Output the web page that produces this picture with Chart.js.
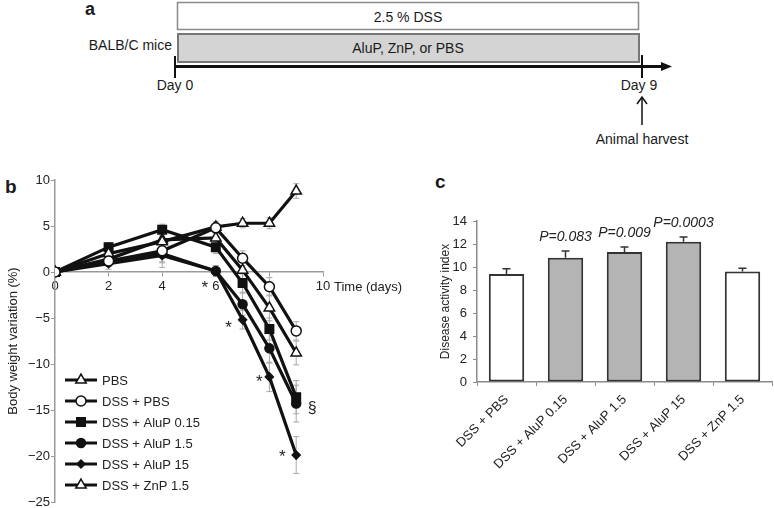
<!DOCTYPE html>
<html>
<head>
<meta charset="utf-8">
<script src="https://cdn.jsdelivr.net/npm/chart.js@4.4.1/dist/chart.umd.min.js"></script>
<style>
  html, body { margin: 0; padding: 0; background: #fff; overflow: hidden; }
  body { width: 774px; height: 508px; position: relative; font-family: "Liberation Sans", Arial, sans-serif; }
  #panelA { position: absolute; left: 0; top: 0; }
  #chartB { position: absolute; left: 0; top: 140px; }
  #chartC { position: absolute; left: 380px; top: 140px; }
</style>
</head>
<body>
<svg id="panelA" width="774" height="508" font-family="Liberation Sans, Arial, sans-serif" fill="#1a1a1a">
  <text x="85" y="15" font-size="18" font-weight="bold">a</text>
  <rect x="177.5" y="2.5" width="461" height="27" fill="#fff" stroke="#8a8a8a" stroke-width="1.5"/>
  <text x="408" y="22" font-size="14" text-anchor="middle">2.5 % DSS</text>
  <rect x="178" y="34" width="461" height="28" fill="#d4d4d4" stroke="#777" stroke-width="2"/>
  <text x="408" y="53" font-size="14" text-anchor="middle">AluP, ZnP, or PBS</text>
  <text x="172" y="50" font-size="14" text-anchor="end">BALB/C mice</text>
  <line x1="175" y1="66.5" x2="664" y2="66.5" stroke="#111" stroke-width="3"/>
  <polygon points="672,66.5 661,62 661,71" fill="#111"/>
  <line x1="175" y1="56" x2="175" y2="78" stroke="#111" stroke-width="2"/>
  <line x1="642" y1="55" x2="642" y2="78" stroke="#111" stroke-width="2"/>
  <text x="175" y="90" font-size="14" text-anchor="middle">Day 0</text>
  <text x="639" y="90" font-size="14" text-anchor="middle">Day 9</text>
  <line x1="642" y1="125" x2="642" y2="98" stroke="#111" stroke-width="1.5"/>
  <polyline points="637,104 642,97 647,104" fill="none" stroke="#111" stroke-width="1.5"/>
  <text x="642" y="144" font-size="14" text-anchor="middle">Animal harvest</text>
  <text x="5" y="193" font-size="19" font-weight="bold">b</text>
  <text x="435" y="188" font-size="19" font-weight="bold">c</text>
</svg>
<canvas id="chartB" width="420" height="380"></canvas>
<canvas id="chartC" width="420" height="368"></canvas>
<script>
// --- Panel b: body weight variation ---
const days = [0, 2, 4, 6, 7, 8, 9];
const pbs = [0, 2.0, 3.3, 4.9, 5.3, 5.3, 8.8];
const dssPbs = [0, 1.2, 2.3, 4.8, 1.5, -1.6, -6.4];
const aluP015 = [0, 2.7, 4.6, 2.7, -1.2, -6.2, -13.6];
const aluP1_5 = [0, 1.1, 2.0, 0.1, -3.5, -8.3, -14.3];
const aluP15 = [0, 0.9, 1.8, 0.1, -5.2, -11.4, -19.9];
const znP1_5 = [0, 1.4, 3.5, 3.7, 0.2, -3.9, -8.8];

const pbsErr = [0, 0.4, 0.5, 0.6, 0.5, 0.6, 0.8];
const dssPbsErr = [0, 0.5, 1.2, 0.6, 0.8, 1.0, 1.0];
const aluP015Err = [0, 0.5, 0.6, 0.7, 1.0, 1.2, 1.8];
const aluP1_5Err = [0, 0.5, 1.5, 0.6, 1.2, 1.6, 2.0];
const aluP15Err = [0, 0.6, 0.8, 0.6, 1.0, 1.6, 2.0];
const znP1_5Err = [0, 0.5, 0.8, 0.8, 1.0, 1.4, 1.3];

// --- Panel c: disease activity index ---
const groups = ['DSS + PBS', 'DSS + AluP 0.15', 'DSS + AluP 1.5', 'DSS + AluP 15', 'DSS + ZnP 1.5'];
const activity = [9.4, 10.8, 11.3, 12.2, 9.6];
const activityErr = [0.45, 0.6, 0.45, 0.4, 0.3];
const pValues = ['', 'P=0.083', 'P=0.009', 'P=0.0003', ''];
const barColors = ['#ffffff', '#b4b4b4', '#b4b4b4', '#b4b4b4', '#ffffff'];

Chart.defaults.font.family = '"Liberation Sans", Arial, sans-serif';
Chart.defaults.color = '#222';

const FONT = '"Liberation Sans", Arial, sans-serif';

function pts(vals) {
  return days.map((d, i) => ({ x: d, y: vals[i] }));
}

function serie(label, vals, err, style, radius, fill, order) {
  return {
    label: label,
    data: pts(vals),
    err: err,
    order: order,
    borderColor: '#111',
    borderWidth: 3.2,
    tension: 0,
    fill: false,
    pointStyle: style,
    pointRadius: radius,
    pointBackgroundColor: fill,
    pointBorderColor: '#111',
    pointBorderWidth: 1.5
  };
}

function marker(ctx, style, r, x, y) {
  if (Chart.helpers && Chart.helpers.drawPoint) {
    Chart.helpers.drawPoint(ctx, { pointStyle: style, radius: r, rotation: 0, borderWidth: ctx.lineWidth }, x, y);
    return;
  }
  ctx.beginPath();
  ctx.arc(x, y, r, 0, Math.PI * 2);
  ctx.fill(); ctx.stroke();
}

// barras de error gris detrás de las líneas
const errorLines = {
  id: 'errorLines',
  beforeDatasetsDraw(chart) {
    const ctx = chart.ctx, ys = chart.scales.y;
    ctx.save();
    ctx.strokeStyle = '#a8a8a8';
    ctx.lineWidth = 1;
    chart.data.datasets.forEach((ds, di) => {
      const meta = chart.getDatasetMeta(di);
      meta.data.forEach((p, i) => {
        const e = ds.err[i];
        if (!e) return;
        const v = ds.data[i].y;
        const y1 = ys.getPixelForValue(v + e), y2 = ys.getPixelForValue(v - e);
        ctx.beginPath();
        ctx.moveTo(p.x, y1); ctx.lineTo(p.x, y2);
        ctx.moveTo(p.x - 3, y1); ctx.lineTo(p.x + 3, y1);
        ctx.moveTo(p.x - 3, y2); ctx.lineTo(p.x + 3, y2);
        ctx.stroke();
      });
    });
    ctx.restore();
  }
};

const extrasB = {
  id: 'extrasB',
  afterDraw(chart) {
    const ctx = chart.ctx, xs = chart.scales.x, ys = chart.scales.y;
    ctx.save();
    // "Time (days)" después del 10
    ctx.fillStyle = '#222';
    ctx.font = '13px ' + FONT;
    ctx.textBaseline = 'middle';
    ctx.textAlign = 'left';
    ctx.fillText('Time (days)', xs.getPixelForValue(10) + 11, ys.getPixelForValue(0) + 15);

    // asteriscos junto a DSS + AluP 15
    const m15 = chart.getDatasetMeta(4).data;
    const offs = [[3, -11, 13], [4, -14, 4], [5, -10, 1], [6, -14, -2]];
    ctx.font = '17px ' + FONT;
    ctx.textAlign = 'center';
    offs.forEach(o => {
      const p = m15[o[0]];
      ctx.fillText('*', p.x + o[1], p.y + o[2] + 4);
    });
    const p015 = chart.getDatasetMeta(2).data[6];
    ctx.font = '16px ' + FONT;
    ctx.fillText('\u00a7', p015.x + 16, p015.y + 11);

    // leyenda
    chart.data.datasets.forEach((ds, i) => {
      const y = 240 + i * 21;
      ctx.strokeStyle = '#111';
      ctx.lineWidth = 3;
      ctx.beginPath(); ctx.moveTo(65, y); ctx.lineTo(97, y); ctx.stroke();
      ctx.fillStyle = ds.pointBackgroundColor;
      ctx.lineWidth = ds.pointBorderWidth;
      marker(ctx, ds.pointStyle, ds.pointRadius, 81, y);
      ctx.fillStyle = '#222';
      ctx.font = '13px ' + FONT;
      ctx.textAlign = 'left';
      ctx.textBaseline = 'middle';
      ctx.fillText(ds.label, 102, y + 1);
    });
    ctx.restore();
  }
};

new Chart(document.getElementById('chartB'), {
  type: 'line',
  data: {
    datasets: [
      serie('PBS', pbs, pbsErr, 'triangle', 6, '#fff', 1),
      serie('DSS + PBS', dssPbs, dssPbsErr, 'circle', 5, '#fff', 0),
      serie('DSS + AluP 0.15', aluP015, aluP015Err, 'rect', 6, '#111', 2),
      serie('DSS + AluP 1.5', aluP1_5, aluP1_5Err, 'circle', 4.5, '#111', 2),
      serie('DSS + AluP 15', aluP15, aluP15Err, 'rectRot', 4, '#111', 2),
      serie('DSS + ZnP 1.5', znP1_5, znP1_5Err, 'triangle', 6, '#fff', 1)
    ]
  },
  plugins: [errorLines, extrasB],
  options: {
    responsive: false,
    animation: false,
    layout: { padding: { left: 2, top: 40, right: 97, bottom: 18 } },
    plugins: { legend: { display: false }, tooltip: { enabled: false } },
    scales: {
      x: {
        type: 'linear',
        position: { y: 0 },
        min: 0, max: 10,
        ticks: { stepSize: 2, color: '#222', font: { size: 13 }, padding: 3 },
        grid: { drawOnChartArea: false, tickLength: 4, color: '#9a9a9a' },
        border: { color: '#9a9a9a', width: 1.5 }
      },
      y: {
        min: -25, max: 10,
        ticks: {
          stepSize: 5, color: '#222', font: { size: 13 }, padding: 1,
          callback: v => v < 0 ? '\u2212' + Math.abs(v) : v
        },
        grid: { drawOnChartArea: false, tickLength: 4, color: '#9a9a9a' },
        border: { color: '#9a9a9a', width: 1.5 },
        title: { display: true, text: 'Body weight variation (%)', color: '#222', font: { size: 13 }, padding: { top: 4, bottom: 0 } },
        afterFit: s => { s.width = 53; }
      }
    }
  }
});

const extrasC = {
  id: 'extrasC',
  afterDatasetsDraw(chart) {
    const ctx = chart.ctx, ys = chart.scales.y;
    const meta = chart.getDatasetMeta(0);
    ctx.save();
    meta.data.forEach((bar, i) => {
      const yTop = ys.getPixelForValue(activity[i] + activityErr[i]);
      const yBar = ys.getPixelForValue(activity[i]);
      ctx.strokeStyle = '#333';
      ctx.lineWidth = 1.5;
      ctx.beginPath();
      ctx.moveTo(bar.x, yBar); ctx.lineTo(bar.x, yTop);
      ctx.moveTo(bar.x - 4, yTop); ctx.lineTo(bar.x + 4, yTop);
      ctx.stroke();
      if (pValues[i]) {
        ctx.fillStyle = '#222';
        ctx.font = 'italic 14px ' + FONT;
        ctx.textAlign = 'center';
        ctx.textBaseline = 'middle';
        ctx.fillText(pValues[i], bar.x, yTop - 14);
      }
    });
    ctx.restore();
  }
};

new Chart(document.getElementById('chartC'), {
  type: 'bar',
  data: {
    labels: groups,
    datasets: [{
      data: activity,
      backgroundColor: barColors,
      borderColor: '#333',
      borderWidth: 2,
      borderSkipped: false,
      barPercentage: 0.6,
      categoryPercentage: 1
    }]
  },
  plugins: [extrasC],
  options: {
    responsive: false,
    animation: false,
    layout: { padding: { left: 54, top: 81, right: 28, bottom: 0 } },
    plugins: { legend: { display: false }, tooltip: { enabled: false } },
    scales: {
      x: {
        ticks: { color: '#222', font: { size: 13 }, minRotation: 45, maxRotation: 45, autoSkip: false, padding: 6 },
        grid: { drawOnChartArea: false, tickLength: 4, color: '#8a8a8a' },
        border: { color: '#8a8a8a', width: 1.5 },
        afterFit: s => { s.height = 126; }
      },
      y: {
        min: 0, max: 14,
        ticks: { stepSize: 2, color: '#222', font: { size: 13 }, padding: 6 },
        grid: { drawOnChartArea: false, tickLength: 4, color: '#8a8a8a' },
        border: { color: '#8a8a8a', width: 1.5 },
        title: { display: true, text: 'Disease activity index', color: '#222', font: { size: 12 }, padding: { top: 4, bottom: 0 } },
        afterFit: s => { s.width = 43; }
      }
    }
  }
});
</script>
</body>
</html>
